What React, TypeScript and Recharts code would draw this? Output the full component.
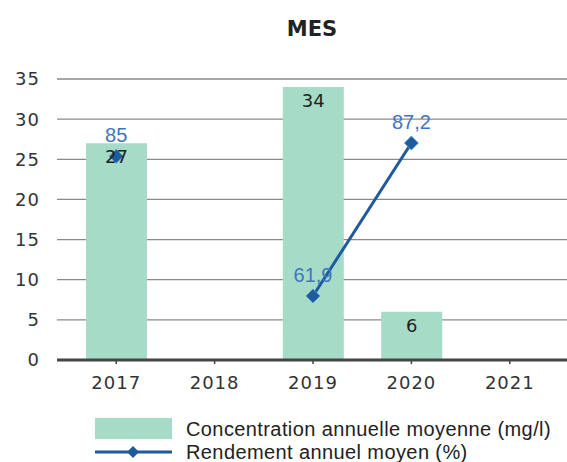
import React from "react";
import {
  ComposedChart,
  Bar,
  Line,
  XAxis,
  YAxis,
  CartesianGrid,
  LabelList,
} from "recharts";

const years = ["2017", "2018", "2019", "2020", "2021"];
const concentration = [27, null, 34, 6, null];
const rendement = [85, null, 61.9, 87.2, null];
const yTicks = [0, 5, 10, 15, 20, 25, 30, 35];

const data = years.map((year, i) => ({
  year,
  concentration: concentration[i],
  rendement: rendement[i],
}));

const BAR_COLOR = "#a6dbc8";
const LINE_COLOR = "#1c5b9e";
const FONT = "'DejaVu Sans', Verdana, sans-serif";
const ARIAL = "'Liberation Sans', Arial, sans-serif";

const fmt = (v: any) => (v == null ? "" : String(v).replace(".", ","));

const Diamond = (props: any) => {
  const { cx, cy, value } = props;
  if (value == null || cx == null || cy == null) return null;
  const r = 7;
  return (
    <path
      d={`M${cx},${cy - r} L${cx + r},${cy} L${cx},${cy + r} L${cx - r},${cy} Z`}
      fill={LINE_COLOR}
      stroke="#5b97d3"
      strokeWidth={0.8}
    />
  );
};

function LegendBox() {
  return (
    <div
      style={{
        position: "absolute",
        left: 95,
        top: 416,
        width: 480,
        fontFamily: ARIAL,
        fontSize: 20,
        color: "#222",
        whiteSpace: "nowrap",
        lineHeight: "22px",
      }}
    >
      <div style={{ display: "flex", alignItems: "center", height: 25 }}>
        <div style={{ width: 77, height: 21, background: BAR_COLOR, marginRight: 14 }} />
        <span style={{ letterSpacing: 0.4 }}>Concentration annuelle moyenne (mg/l)</span>
      </div>
      <div style={{ display: "flex", alignItems: "center", height: 22 }}>
        <svg width={77} height={14} style={{ marginRight: 14 }}>
          <line x1={0} y1={7} x2={77} y2={7} stroke={LINE_COLOR} strokeWidth={3} />
          <path d="M38,1 L44,7 L38,13 L32,7 Z" fill={LINE_COLOR} />
        </svg>
        <span style={{ letterSpacing: 0.4 }}>Rendement annuel moyen (%)</span>
      </div>
    </div>
  );
}

export default function App() {
  return (
    <div
      style={{
        position: "absolute",
        left: 0,
        top: 0,
        width: 567,
        height: 462,
        background: "#fff",
        overflow: "hidden",
      }}
    >
      <div
        style={{
          position: "absolute",
          left: 0,
          width: 624,
          top: 17,
          textAlign: "center",
          fontFamily: FONT,
          fontWeight: "bold",
          fontSize: 21,
          color: "#222",
        }}
      >
        MES
      </div>
      <ComposedChart
        width={567}
        height={462}
        data={data}
        margin={{ top: 79, right: 0, bottom: 72, left: 0 }}
      >
        <CartesianGrid yAxisId="left" vertical={false} stroke="#8a8a8a" strokeWidth={1.3} />
        <XAxis
          dataKey="year"
          height={30}
          padding={{ left: 10, right: 8 }}
          stroke="#444"
          strokeWidth={3}
          tickSize={4}
          tickLine={{ stroke: "#444", strokeWidth: 1.5 }}
          tickMargin={12}
          tick={{ fill: "#333", fontSize: 18, fontFamily: FONT, letterSpacing: 1 }}
        />
        <YAxis
          yAxisId="left"
          width={57}
          domain={[0, 35]}
          ticks={yTicks}
          axisLine={false}
          tickLine={false}
          tickSize={0}
          tickMargin={17}
          tick={{ fill: "#333", fontSize: 18, fontFamily: FONT, letterSpacing: 1 }}
        />
        <YAxis yAxisId="right" orientation="right" hide domain={[51.3, 97.8]} />
        <Bar
          yAxisId="left"
          dataKey="concentration"
          fill={BAR_COLOR}
          barSize={61}
          isAnimationActive={false}
        >
          <LabelList
            dataKey="concentration"
            position="insideTop"
            offset={7}
            fill="#222"
            fontSize={18}
            fontFamily={FONT}
          />
        </Bar>
        <Line
          yAxisId="right"
          dataKey="rendement"
          stroke={LINE_COLOR}
          strokeWidth={3}
          dot={<Diamond />}
          activeDot={false}
          connectNulls={false}
          isAnimationActive={false}
        >
          <LabelList
            dataKey="rendement"
            position="top"
            offset={14}
            fill="#3f75bd"
            fontSize={20}
            fontFamily={ARIAL}
            formatter={fmt}
          />
        </Line>
      </ComposedChart>
      <LegendBox />
    </div>
  );
}
